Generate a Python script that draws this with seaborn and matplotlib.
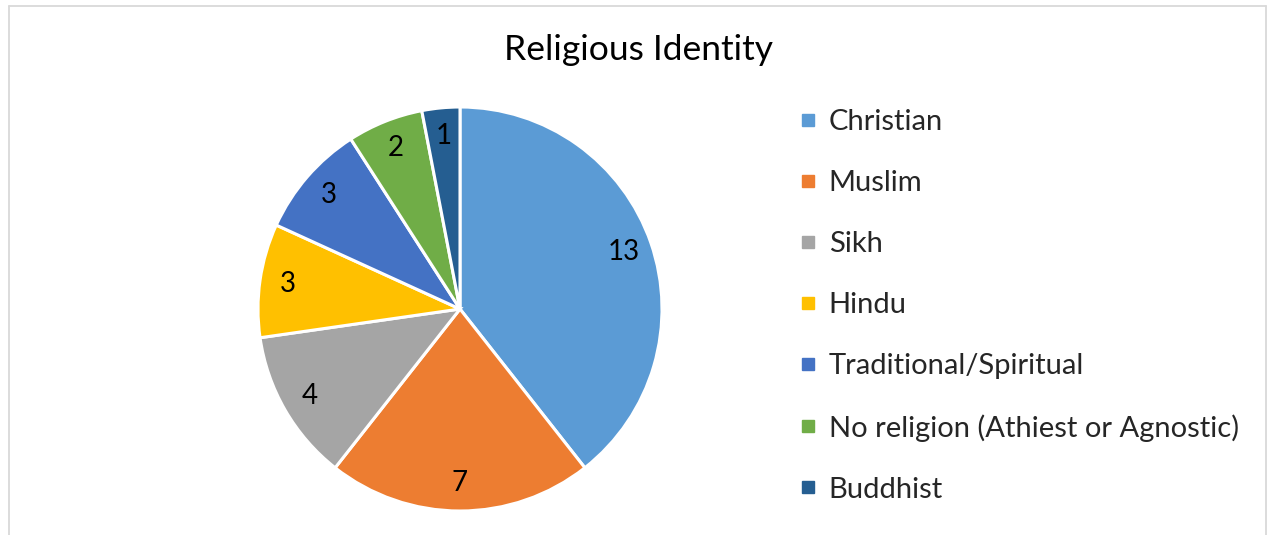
import matplotlib as mpl
mpl.use("Agg")
import matplotlib.pyplot as plt
import seaborn as sns
from matplotlib.lines import Line2D

categories = ["Christian", "Muslim", "Sikh", "Hindu", "Traditional/Spiritual",
              "No religion (Athiest or Agnostic)", "Buddhist"]
counts = [13, 7, 4, 3, 3, 2, 1]
slice_colors = ["#5B9BD5", "#ED7D31", "#A5A5A5", "#FFC000", "#4472C4", "#70AD47", "#255E91"]

sns.set_theme(style="white")
plt.rcParams["font.family"] = ["Lato", "DejaVu Sans"]
palette = sns.color_palette(slice_colors)

W, H = 1267, 535
fig = plt.figure(figsize=(W / 100, H / 100), dpi=100)

# pie centred at (460, 309) px with radius ~202 px
cx, cy, r = 460, H - 309, 202
ax = fig.add_axes([(cx - r) / W, (cy - r) / H, 2 * r / W, 2 * r / H])
total = sum(counts)
wedges, texts, autotexts = ax.pie(
    counts, colors=palette, startangle=90, counterclock=False,
    autopct=lambda p: "%d" % round(p * total / 100), pctdistance=0.86,
    wedgeprops=dict(edgecolor="white", linewidth=2.2),
    textprops=dict(fontsize=20, color="#000000", family=["Lato", "DejaVu Sans"]))
ax.set_xlim(-1, 1)
ax.set_ylim(-1, 1)
ax.set_aspect("equal")
ax.axis("off")

fig.text(638 / W, 1 - 50 / H, "Religious Identity", ha="center", va="center",
         fontsize=25.5, color="#000000")

handles = [Line2D([], [], marker="s", linestyle="none", markersize=9,
                  markerfacecolor=c, markeredgecolor=c) for c in palette]
fig.legend(handles, categories, loc="upper left", bbox_to_anchor=(801 / W, 1 - 109 / H),
           frameon=False, fontsize=21, labelspacing=1.2, handlelength=0.5,
           handletextpad=0.45, borderaxespad=0, borderpad=0)

# chart-area border (left, top, right)
border = "#D9D9D9"
fig.add_artist(Line2D([8.5 / W, 8.5 / W], [0, 1 - 5.5 / H], color=border, lw=1.3,
                      transform=fig.transFigure))
fig.add_artist(Line2D([8.5 / W, 1265.5 / W], [1 - 5.5 / H, 1 - 5.5 / H], color=border,
                      lw=1.3, transform=fig.transFigure))
fig.add_artist(Line2D([1265.5 / W, 1265.5 / W], [0, 1 - 5.5 / H], color=border, lw=1.3,
                      transform=fig.transFigure))

fig.savefig("out.png", dpi=100, facecolor="white")
